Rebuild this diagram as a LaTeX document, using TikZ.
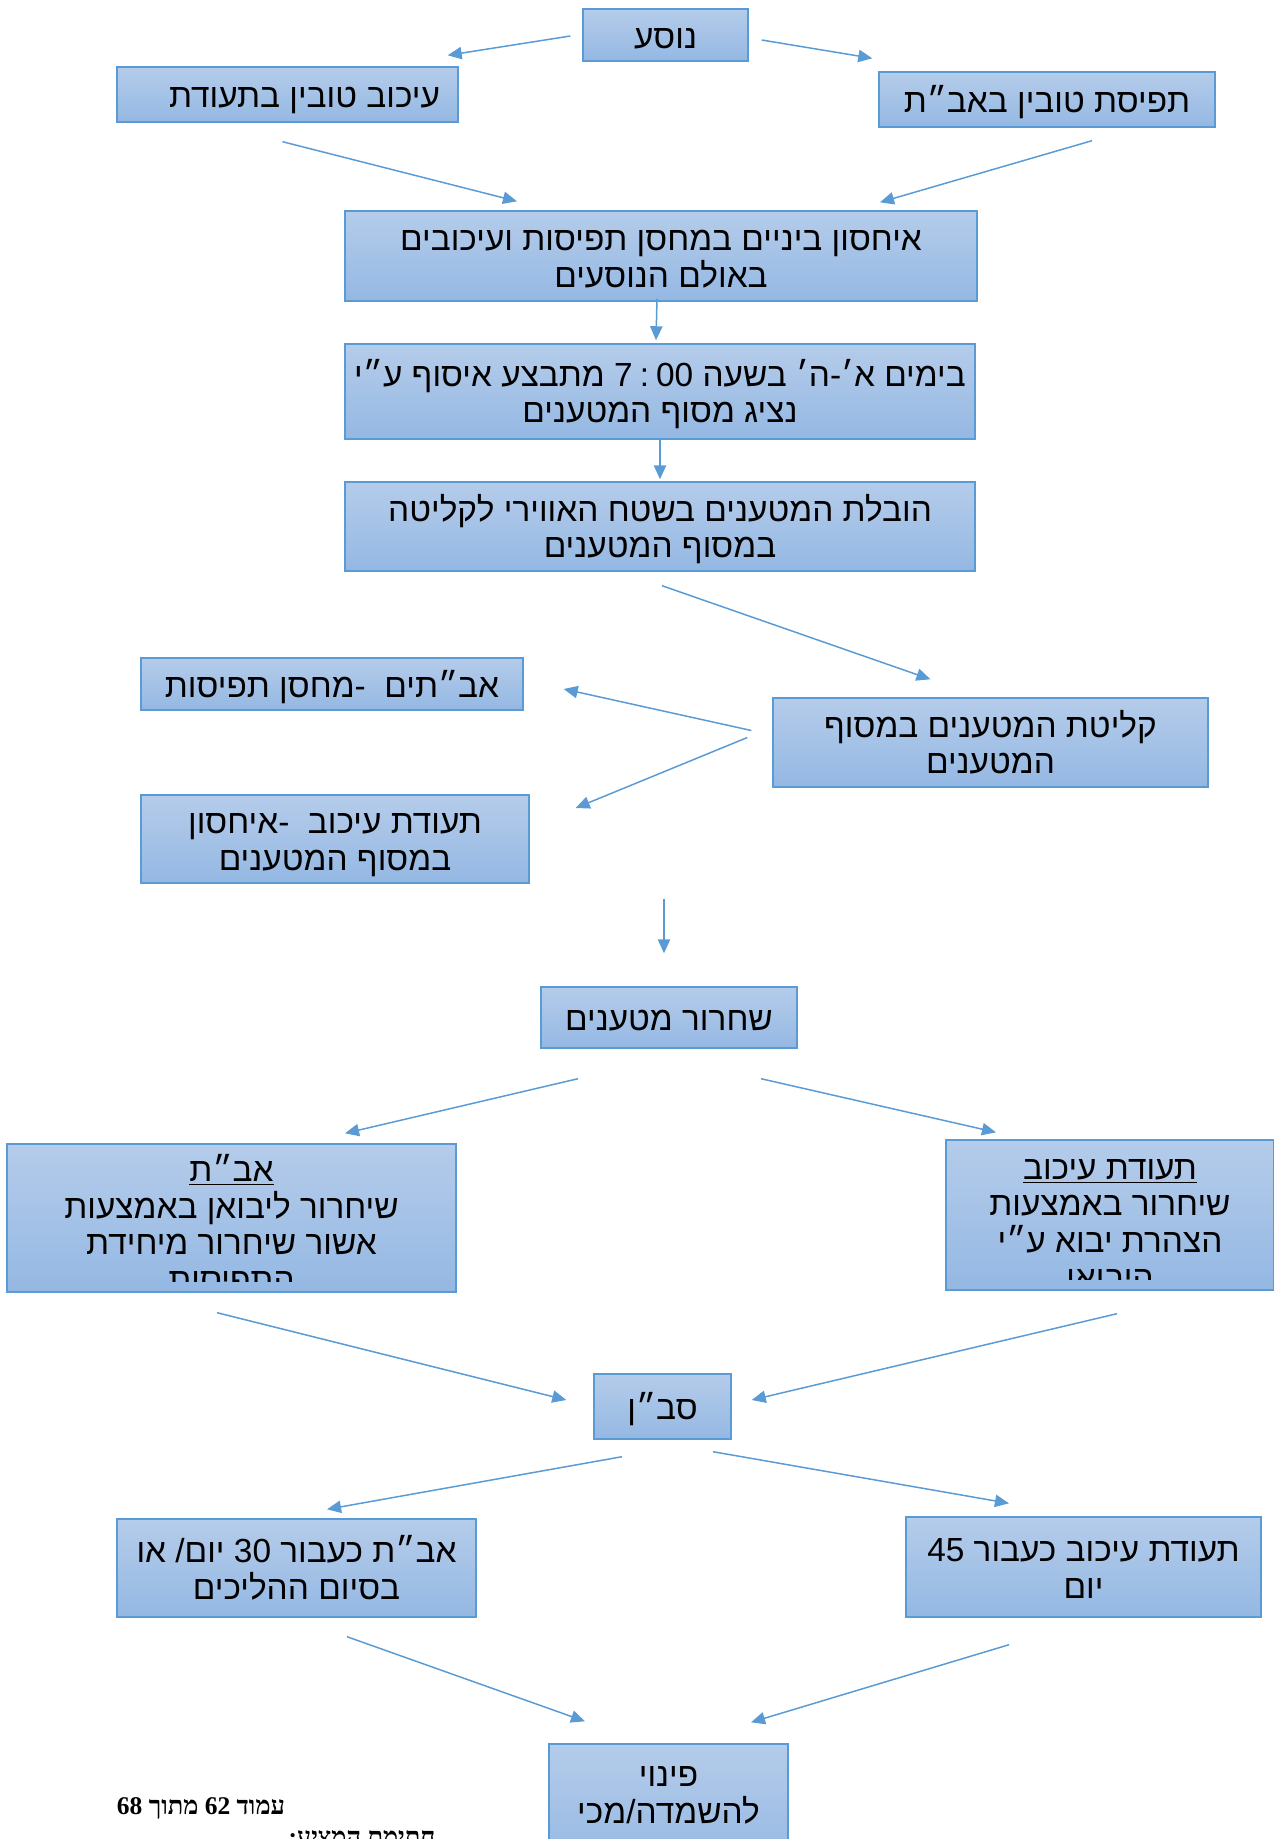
\documentclass[tikz,border=0pt]{standalone}
\usepackage{fontspec}
\setmainfont{Liberation Sans}
\newfontfamily\hebfont[Script=Hebrew]{Liberation Sans}
\newfontfamily\footfont[Script=Hebrew]{Liberation Serif}
\TeXXeTstate=1
\usetikzlibrary{arrows.meta}

\definecolor{boxtop}{RGB}{181,204,234}
\definecolor{boxbot}{RGB}{148,184,227}
\definecolor{boxline}{RGB}{91,155,213}

% one right-to-left line, with a strut so the lines sit like in the original
\newcommand{\hstrut}{\rule[-4.5pt]{0pt}{24pt}}
\newcommand{\rl}[1]{\hstrut\beginR #1\endR}
\newcommand{\rlu}[1]{\hstrut\underline{\beginR #1\endR}}
\newcommand{\boxfont}{\hebfont\fontsize{19}{20.8}\selectfont\lineskiplimit=-20pt\relax}

\tikzset{
  flowbox/.style={draw=boxline, line width=0.8pt, top color=boxtop, bottom color=boxbot,
    align=center, inner sep=0pt, font=\boxfont},
  boxtext/.style={align=center, inner sep=0pt, font=\boxfont},
  foottext/.style={inner sep=0pt, font=\footfont\bfseries\fontsize{14.5}{17}\selectfont},
  flowarr/.style={-{Triangle[length=8pt,width=7pt]}, draw=boxline, line width=0.85pt},
}

\begin{document}
\begin{tikzpicture}[x=0.02cm, y=-0.02cm]
    \useasboundingbox (0,0) rectangle (1274,1839);

    % top
    \node[flowbox, minimum width=3.30cm, minimum height=1.04cm] (nosea) at (665.5,35) {\rl{נוסע}};
    \node[flowbox, minimum width=6.82cm, minimum height=1.10cm] (ikuv) at (287.5,94.5) {\hspace*{0.68cm}\rl{עיכוב טובין בתעודת}};
    \node[flowbox, minimum width=6.72cm, minimum height=1.10cm] (tfisa) at (1047,99.5) {\rl{תפיסת טובין באב״ת}};

    \node[flowbox, minimum width=12.64cm, minimum height=1.80cm] (ichsun) at (661,256)
        {\rl{איחסון ביניים במחסן תפיסות ועיכובים}\\\rl{באולם הנוסעים}};
    \node[flowbox, minimum width=12.60cm, minimum height=1.90cm] (bimim) at (660,391.5)
        {\rl{בימים א׳-ה׳ בשעה \beginL 7\kern4pt:\kern4pt00\endL{} מתבצע איסוף ע״י}\\\rl{נציג מסוף המטענים}};
    \node[flowbox, minimum width=12.60cm, minimum height=1.78cm] (hovala) at (660,526.5)
        {\rl{הובלת המטענים בשטח האווירי לקליטה}\\\rl{במסוף המטענים}};

    % middle
    \node[flowbox, minimum width=8.70cm, minimum height=1.78cm] (klita) at (990.5,742.5)
        {\rl{קליטת המטענים במסוף}\\\rl{המטענים}};
    \node[flowbox, minimum width=7.64cm, minimum height=1.04cm] (avitim) at (332,684)
        {\rl{אב״תים \ -מחסן תפיסות}};
    \node[flowbox, minimum width=7.76cm, minimum height=1.76cm] (teudaIchsun) at (335,839)
        {\rl{תעודת עיכוב \ -איחסון}\\\rl{במסוף המטענים}};

    \node[flowbox, minimum width=5.12cm, minimum height=1.22cm] (shichrur) at (669,1017.5) {\rl{שחרור מטענים}};

    % release boxes, text runs past the box bottom
    \node[flowbox, minimum width=8.98cm, minimum height=2.96cm] (avitRel) at (231.5,1218) {};
    \begin{scope}
        \clip (avitRel.north west) rectangle ([shift={(0,-11)}]avitRel.south east);
        \node[boxtext] (avitRelText) at (231.5,1223.5)
            {\rlu{אב״ת}\\\rl{שיחרור ליבואן באמצעות}\\\rl{אשור שיחרור מיחידת}\\\rl{התפיסות}};
    \end{scope}
    \node[flowbox, minimum width=6.56cm, minimum height=3.00cm] (teudaRel) at (1110,1215) {};
    \begin{scope}
        \clip (teudaRel.north west) rectangle ([shift={(0,-11)}]teudaRel.south east);
        \node[boxtext] (teudaRelText) at (1110,1221)
            {\rlu{תעודת עיכוב}\\\rl{שיחרור באמצעות}\\\rl{הצהרת יבוא ע״י}\\\rl{היבואן}};
    \end{scope}

    \node[flowbox, minimum width=2.74cm, minimum height=1.30cm] (saban) at (662.5,1406.5) {\rl{סב״ן}};

    % bottom
    \node[flowbox, minimum width=7.18cm, minimum height=1.96cm] (avit30) at (296.5,1568)
        {\rl{אב״ת כעבור 30 יום/ או}\\\rl{בסיום ההליכים}};
    \node[flowbox, minimum width=7.10cm, minimum height=2.00cm] (teuda45) at (1083.5,1567)
        {\rl{תעודת עיכוב כעבור 45}\\\rl{יום}};
    \node[flowbox, minimum width=4.78cm, minimum height=2.52cm] (pinui) at (668.5,1807) {};
    \node[boxtext] (pinuiText) at (668.5,1792) {\rl{פינוי}\\\rl{להשמדה/מכי}};

    % page footer
    \node[foottext] (footPage) at (201,1808) {\beginR עמוד 62 מתוך 68\endR};
    \node[foottext] (footSign) at (362,1838) {\beginR חתימת המציע:\endR};

    % arrows
    \draw[flowarr] ([shift={(-12,1)}]nosea.west) -- ([shift={(-11,-11)}]ikuv.north east);
    \draw[flowarr] ([shift={(13,5)}]nosea.east) -- ([shift={(-6,-13)}]tfisa.north west);
    \draw[flowarr] ([shift={(-5,19)}]ikuv.south) -- ([shift={(-144,-9)}]ichsun.north);
    \draw[flowarr] ([shift={(45,13)}]tfisa.south) -- ([shift={(219,-8)}]ichsun.north);
    \draw[flowarr] ([shift={(-4,-3)}]ichsun.south) -- ([shift={(-4,-3)}]bimim.north);
    \draw[flowarr] (bimim.south) -- ([shift={(0,-2)}]hovala.north);
    \draw[flowarr] ([shift={(2,14)}]hovala.south) -- ([shift={(-60,-18)}]klita.north);
    \draw[flowarr] ([shift={(-21,-12)}]klita.west) -- ([shift={(40,5)}]avitim.east);
    \draw[flowarr] ([shift={(-25,-5)}]klita.west) -- ([shift={(46,-31)}]teudaIchsun.east);
    \draw[flowarr] ([shift={(-5,-87)}]shichrur.north) -- ([shift={(-5,-33)}]shichrur.north);
    \draw[flowarr] ([shift={(-91,30)}]shichrur.south) -- ([shift={(113.5,-10)}]avitRel.north);
    \draw[flowarr] ([shift={(92,30)}]shichrur.south) -- ([shift={(-114,-7)}]teudaRel.north);
    \draw[flowarr] ([shift={(-14.5,20)}]avitRel.south) -- ([shift={(-27,-6.5)}]saban.west);
    \draw[flowarr] ([shift={(7,23)}]teudaRel.south) -- ([shift={(20,-6.5)}]saban.east);
    \draw[flowarr] ([shift={(-40.5,17)}]saban.south) -- ([shift={(30.5,-9)}]avit30.north);
    \draw[flowarr] ([shift={(50.5,12)}]saban.south) -- ([shift={(-74.5,-13)}]teuda45.north);
    \draw[flowarr] ([shift={(50.5,19)}]avit30.south) -- ([shift={(-83.5,-22)}]pinui.north);
    \draw[flowarr] ([shift={(-74.5,27)}]teuda45.south) -- ([shift={(82.5,-21)}]pinui.north);
\end{tikzpicture}
\end{document}
